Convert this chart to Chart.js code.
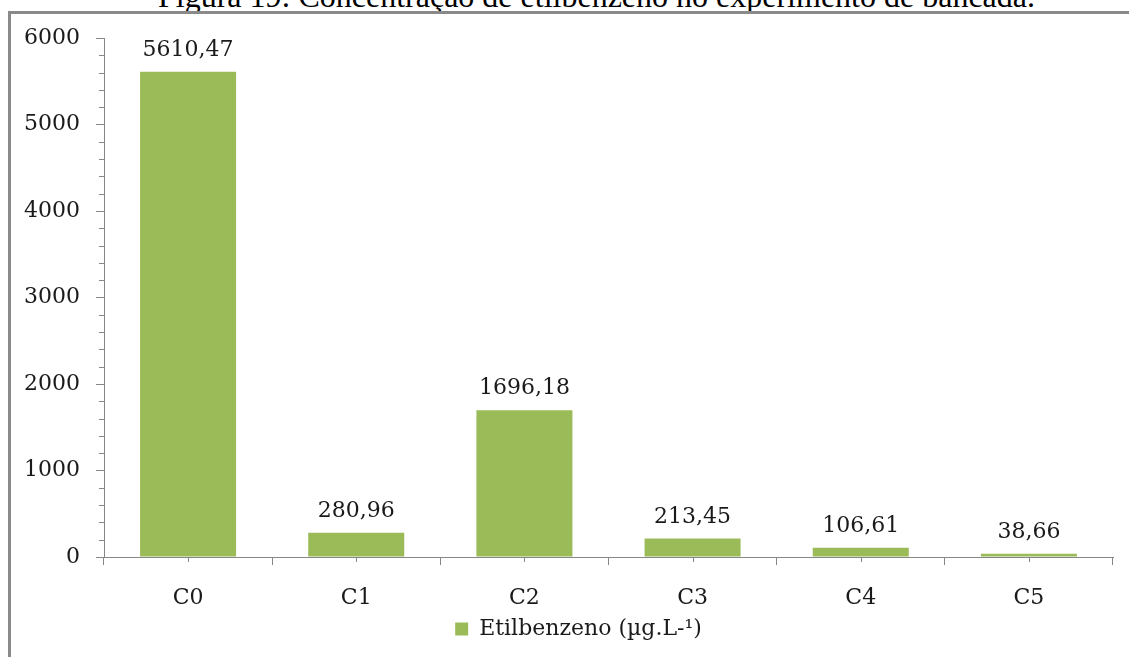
<!DOCTYPE html>
<html lang="pt">
<head>
<meta charset="utf-8">
<title>Etilbenzeno</title>
<script src="https://cdn.jsdelivr.net/npm/chart.js@4.4.1/dist/chart.umd.min.js"></script>
<style>
  html, body { margin: 0; padding: 0; background: #ffffff; }
  body { width: 1129px; height: 657px; overflow: hidden; position: relative; }
  #caption {
    position: absolute; left: 158px; top: -20px;
    font-family: "Liberation Serif", serif; font-size: 32px; line-height: 32px;
    color: #000; white-space: nowrap;
  }
  #frame {
    position: absolute; left: 8px; top: 11px; width: 1400px; height: 900px;
    border-left: 3px solid #8a8a8a; border-top: 3px solid #8a8a8a;
  }
  #wrap { position: absolute; left: 0; top: 0; width: 1129px; height: 657px; }
</style>
</head>
<body>
<div id="caption">Figura 19: Concentração de etilbenzeno no experimento de bancada.</div>
<div id="frame"></div>
<div id="wrap"><canvas id="chart" width="1129" height="657"></canvas></div>
<script>
// Concentração de etilbenzeno por etapa do ensaio
const categories = ['C0', 'C1', 'C2', 'C3', 'C4', 'C5'];
const etilbenzeno = [5610.47, 280.96, 1696.18, 213.45, 106.61, 38.66];
const seriesLabel = 'Etilbenzeno (µg.L-¹)';
const yMax = 6000;
const yMajorStep = 1000;
const yMinorStep = 200;

const FONT = '"DejaVu Serif", serif';
const AXIS = '#868686';
const TEXT = '#1a1a1a';
const GREEN = '#9bbb59';

const fmt = v => v.toFixed(2).replace('.', ',');

// minor tick marks on both axes, taken from the chart's scales
const minorTicks = {
  id: 'minorTicks',
  afterDraw(chart) {
    const { ctx, scales: { x, y } } = chart;
    ctx.save();
    ctx.strokeStyle = AXIS;
    ctx.lineWidth = 1;
    ctx.beginPath();
    for (let v = yMinorStep; v < yMax; v += yMinorStep) {
      if (v % yMajorStep === 0) continue;
      const py = Math.round(y.getPixelForValue(v)) + 0.5;
      ctx.moveTo(y.right - 5, py);
      ctx.lineTo(y.right, py);
    }
    categories.forEach((c, i) => {
      const px = Math.round(x.getPixelForTick(i)) + 0.5;
      ctx.moveTo(px, x.top);
      ctx.lineTo(px, x.top + 5);
    });
    ctx.stroke();
    ctx.restore();
  }
};

// value printed above each bar
const valueLabels = {
  id: 'valueLabels',
  afterDatasetsDraw(chart) {
    const { ctx } = chart;
    const meta = chart.getDatasetMeta(0);
    ctx.save();
    ctx.font = '22px ' + FONT;
    ctx.fillStyle = TEXT;
    ctx.textAlign = 'center';
    ctx.textBaseline = 'alphabetic';
    meta.data.forEach((bar, i) => {
      ctx.fillText(fmt(etilbenzeno[i]), bar.x, bar.y - 16);
    });
    ctx.restore();
  }
};

// legend sits a little right of the canvas centre
const legendShift = {
  id: 'legendShift',
  afterLayout(chart) {
    if (chart.legend) {
      chart.legend.left += 22;
      chart.legend.right += 22;
    }
  }
};

new Chart(document.getElementById('chart'), {
  type: 'bar',
  data: {
    labels: categories,
    datasets: [{
      label: seriesLabel,
      data: etilbenzeno,
      backgroundColor: GREEN,
      borderWidth: 0,
      categoryPercentage: 1,
      barPercentage: 0.571
    }]
  },
  options: {
    responsive: false,
    animation: false,
    devicePixelRatio: 1,
    layout: { padding: { top: 38, left: 0, right: 16, bottom: 7 } },
    plugins: {
      title: { display: false },
      tooltip: { enabled: false },
      legend: {
        display: true,
        position: 'bottom',
        labels: {
          font: { family: FONT, size: 22 },
          color: TEXT,
          boxWidth: 13,
          boxHeight: 13,
          padding: 4
        }
      }
    },
    scales: {
      x: {
        grid: {
          display: true,
          drawOnChartArea: false,
          offset: true,
          tickLength: 8,
          color: AXIS
        },
        border: { display: true, color: AXIS, width: 1 },
        ticks: {
          font: { family: FONT, size: 22 },
          color: TEXT,
          padding: 20
        },
        afterFit(s) { s.height = 57; }
      },
      y: {
        min: 0,
        max: yMax,
        grid: {
          display: true,
          drawOnChartArea: false,
          tickLength: 8,
          color: AXIS
        },
        border: { display: true, color: AXIS, width: 1 },
        ticks: {
          stepSize: yMajorStep,
          font: { family: FONT, size: 22 },
          color: TEXT,
          padding: 16,
          callback: v => String(v)
        },
        afterFit(s) { s.width = 104; }
      }
    }
  },
  plugins: [minorTicks, valueLabels, legendShift]
});
</script>
</body>
</html>
